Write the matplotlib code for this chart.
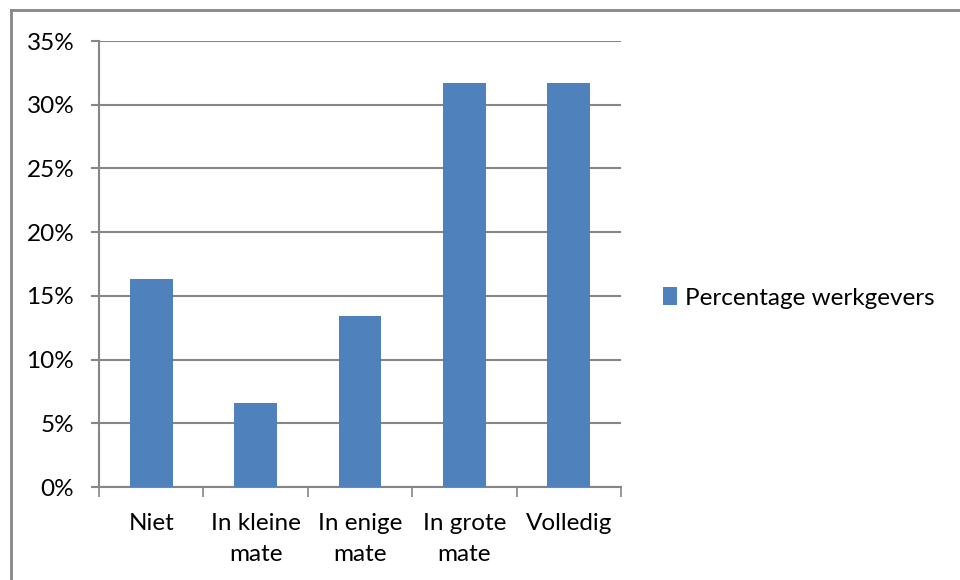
import matplotlib.pyplot as plt
from matplotlib.patches import Patch
from matplotlib.lines import Line2D
from matplotlib.ticker import FuncFormatter

# --------------------------------------------
# DATA
# --------------------------------------------

categories = ["Niet", "In kleine\nmate", "In enige\nmate", "In grote\nmate", "Volledig"]
percentages = [16.3, 6.6, 13.4, 31.7, 31.7]
series_name = "Percentage werkgevers"
y_ticks = [0, 5, 10, 15, 20, 25, 30, 35]

bar_color = "#4F81BD"
grid_color = "#868686"

plt.rcParams["font.family"] = ["Lato", "DejaVu Sans"]

# --------------------------------------------
# FIGURE
# --------------------------------------------

fig = plt.figure(figsize=(9.6, 5.8), dpi=100)
ax = fig.add_axes([99 / 960, 1 - 487 / 580, 522 / 960, 446 / 580])

x = list(range(len(categories)))
ax.bar(x, percentages, width=0.41, color=bar_color, zorder=3)

ax.set_xlim(-0.5, len(categories) - 0.5)
ax.set_ylim(0, 35)
ax.set_yticks(y_ticks)
ax.yaxis.set_major_formatter(FuncFormatter(lambda v, p: f"{v:.0f}%"))
ax.yaxis.grid(True, color=grid_color, linewidth=1.5, zorder=0)

# x ticks at category boundaries, labels centered on bars
ax.set_xticks([i - 0.5 for i in range(len(categories) + 1)])
ax.set_xticklabels([])
ax.set_xticks(x, minor=True)
ax.set_xticklabels(categories, minor=True, fontsize=17.5, linespacing=1.55)
ax.tick_params(axis="x", which="minor", length=0, pad=19)
ax.tick_params(axis="x", which="major", length=7.2, color=grid_color, width=1.2)
ax.tick_params(axis="y", length=5.8, color=grid_color, width=1.5, labelsize=17.5, pad=12)

for side in ["top", "right"]:
    ax.spines[side].set_visible(False)
ax.spines["left"].set_color(grid_color)
ax.spines["left"].set_linewidth(1.5)
ax.spines["bottom"].set_color(grid_color)
ax.spines["bottom"].set_linewidth(1.5)

# legend
handle = Patch(facecolor=bar_color, edgecolor="none")
fig.legend([handle], [series_name], loc="center left",
           bbox_to_anchor=(641 / 960, 1 - 298 / 580), frameon=False,
           fontsize=17.5, handlelength=0.6, handleheight=0.7, handletextpad=0.3)

# outer frame of the chart area
fig.add_artist(Line2D([11 / 960, 11 / 960], [0, 1 - 10 / 580],
                      color=grid_color, linewidth=2))
fig.add_artist(Line2D([11 / 960, 1], [1 - 10 / 580, 1 - 10 / 580],
                      color=grid_color, linewidth=2))

fig.savefig("out.png", dpi=100)
